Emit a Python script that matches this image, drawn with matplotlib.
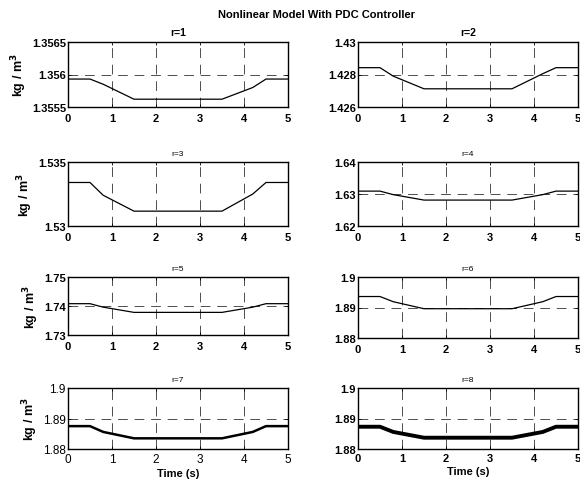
import matplotlib
matplotlib.use("Agg")
import matplotlib.pyplot as plt

plt.rcParams["font.family"] = ["Liberation Sans", "DejaVu Sans"]

# ---------------------------------------------------------------------------
# Data (knots of each response)
# ---------------------------------------------------------------------------
T_KNOTS = [0.0, 0.5, 0.8, 1.5, 3.5, 4.2, 4.5, 5.0]

R1 = [1.35593, 1.35593, 1.35585, 1.35562, 1.35562, 1.35580, 1.35593, 1.35593]
R2 = [1.42842, 1.42842, 1.42790, 1.42712, 1.42712, 1.42805, 1.42842, 1.42842]
R3 = [1.53340, 1.53340, 1.53240, 1.53116, 1.53116, 1.53250, 1.53340, 1.53340]
R4 = [1.63090, 1.63090, 1.62980, 1.62810, 1.62810, 1.62980, 1.63090, 1.63090]
R5 = [1.74080, 1.74080, 1.73960, 1.73780, 1.73780, 1.73960, 1.74080, 1.74080]
R6 = [1.89360, 1.89360, 1.89190, 1.88960, 1.88960, 1.89190, 1.89360, 1.89360]
R7 = [1.88750, 1.88750, 1.88560, 1.88350, 1.88350, 1.88560, 1.88750, 1.88750]
R8 = [1.88730, 1.88730, 1.88560, 1.88370, 1.88370, 1.88560, 1.88730, 1.88730]

SERIES = [R1, R2, R3, R4, R5, R6, R7, R8]
TITLES = ["r=1", "r=2", "r=3", "r=4", "r=5", "r=6", "r=7", "r=8"]

YTICKS = [
    [1.3555, 1.356, 1.3565],
    [1.426, 1.428, 1.43],
    [1.53, 1.535],
    [1.62, 1.63, 1.64],
    [1.73, 1.74, 1.75],
    [1.88, 1.89, 1.9],
    [1.88, 1.89, 1.9],
    [1.88, 1.89, 1.9],
]
YTICKLABELS = [
    ["1.3555", "1.356", "1.3565"],
    ["1.426", "1.428", "1.43"],
    ["1.53", "1.535"],
    ["1.62", "1.63", "1.64"],
    ["1.73", "1.74", "1.75"],
    ["1.88", "1.89", "1.9"],
    ["1.88", "1.89", "1.9"],
    ["1.88", "1.89", "1.9"],
]
XTICKS = [0, 1, 2, 3, 4, 5]

# axes boxes in pixels: (left, top, right, bottom)
BOXES = [
    (68, 43, 288, 108), (358, 43, 578, 108),
    (68, 163, 288, 227), (358, 163, 578, 227),
    (68, 278, 288, 336), (358, 278, 578, 339),
    (68, 389, 288, 450), (358, 389, 578, 450),
]
LINE_W = [0.9, 0.9, 0.9, 0.9, 0.9, 0.9, 1.8, 2.8]

W, H = 580, 481
fig = plt.figure(figsize=(W / 100, H / 100), dpi=100)

for i, (ys, title, box) in enumerate(zip(SERIES, TITLES, BOXES)):
    l, t, r, b = box
    ax = fig.add_axes([l / W, 1 - b / H, (r - l) / W, (b - t) / H])
    ax.plot(T_KNOTS, ys, color="black", lw=LINE_W[i])
    ax.set_xlim(0, 5)
    ax.set_ylim(YTICKS[i][0], YTICKS[i][-1])
    ax.set_xticks(XTICKS)
    ax.set_yticks(YTICKS[i])
    bold_ticks = i != 6
    weight = "bold" if bold_ticks else "normal"
    size = 8 if bold_ticks else 8.5
    ax.set_xticklabels([str(x) for x in XTICKS], fontsize=size, fontweight=weight)
    ax.set_yticklabels(YTICKLABELS[i], fontsize=size, fontweight=weight)
    ax.tick_params(axis="x", pad=4 if i < 6 else 3)
    ax.tick_params(axis="y", pad=1.5)
    ax.tick_params(direction="in", length=2.5, width=0.6, top=True, right=True)
    ax.grid(True, color="0.3", linestyle=(0, (10, 7)), linewidth=0.7)
    for sp in ax.spines.values():
        sp.set_linewidth(1.0)
    if i < 2:
        ax.set_title(title, fontsize=7.5, fontweight="bold", pad=5)
    else:
        ax.set_title(title, fontsize=6, pad=5)
    if i % 2 == 0:
        ax.set_ylabel("kg / m$^\\mathbf{3}$", fontsize=9, fontweight="bold", labelpad=2)
    if i >= 6:
        ax.set_xlabel("Time (s)", fontsize=8, fontweight="bold", labelpad=2)

fig.text(317 / W, 1 - 15 / H, "Nonlinear Model With PDC Controller",
         ha="center", va="center", fontsize=8, fontweight="bold")

fig.savefig("out.png", dpi=100)
